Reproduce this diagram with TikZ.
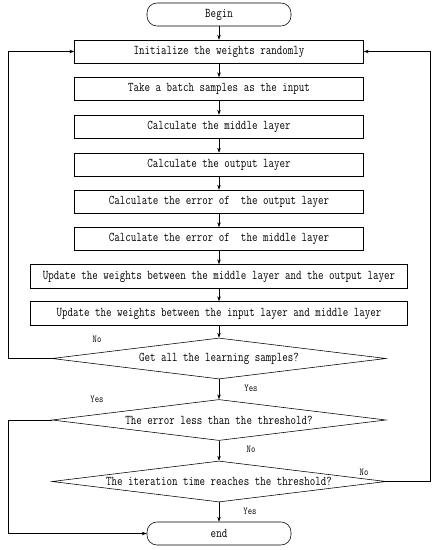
\documentclass[tikz,border=0pt]{standalone}
\usepackage{fontspec}
\newfontfamily\flowfont[FakeStretch=0.8]{Latin Modern Mono}
\usetikzlibrary{arrows.meta, shapes.geometric}

\begin{document}
\begin{tikzpicture}[
    x=0.05cm, y=-0.05cm,
    terminal/.style={rectangle, rounded corners=0.5cm, draw, line width=0.8pt, minimum width=7.2cm, minimum height=1.15cm, inner sep=0pt, font=\flowfont\fontsize{19}{22}\selectfont},
    process/.style={rectangle, draw, line width=0.8pt, minimum width=14.45cm, minimum height=1.15cm, inner sep=0pt, font=\flowfont\fontsize{19}{22}\selectfont},
    wideprocess/.style={process, minimum width=18.85cm, minimum height=1.2cm},
    decision/.style={diamond, draw, line width=0.8pt, aspect=8, inner sep=0pt, minimum width=16.7cm, minimum height=2.05cm, font=\flowfont\fontsize{19}{22}\selectfont},
    arrow/.style={-{Stealth[length=7pt, width=5pt]}, line width=0.8pt},
    label/.style={font=\flowfont\fontsize{15}{17}\selectfont}
]
\useasboundingbox (0,0) rectangle (435,550);

% Main column
\node[terminal] (begin) at (219, 14.5) {Begin};
\node[process] (init) at (219, 51.5) {Initialize the weights randomly};
\node[process] (batch) at (219, 89) {Take a batch samples as the input};
\node[process] (midl) at (219, 126.5) {Calculate the middle layer};
\node[process] (outl) at (219, 164.5) {Calculate the output layer};
\node[process] (errout) at (219, 201.5) {Calculate the error of\ \ the output layer};
\node[process] (errmid) at (219, 239) {Calculate the error of\ \ the middle layer};
\node[wideprocess] (updout) at (219, 276.5) {Update the weights between the middle layer and the output layer};
\node[wideprocess] (updin) at (219, 313.5) {Update the weights between the input layer and middle layer};

% Decisions
\node[decision] (allsamples) at (219, 358.5) {Get all the learning samples?};
\node[decision] (errless) at (219, 420) {The error less than the threshold?};
\node[decision] (itermax) at (219, 481.5) {The iteration time reaches the threshold?};

\node[terminal] (end) at (219, 533.5) {end};

\foreach \a/\b in {begin/init, init/batch, batch/midl, midl/outl, outl/errout, errout/errmid, errmid/updout, updout/updin, updin/allsamples, allsamples/errless, errless/itermax, itermax/end}
    \draw[arrow] (\a) -- (\b);

% Side rails
\coordinate (leftrail) at (8, 0);
\coordinate (rightrail) at (430, 0);
\draw[arrow] (allsamples.west) -- (allsamples.west -| leftrail) |- (init.west);
\draw[arrow] (errless.west) -- (errless.west -| leftrail) |- (end.west);
\draw[arrow] (itermax.east) -- (itermax.east -| rightrail) |- (init.east);

% Branch labels
\node[label] (no1) at (97, 339) {No};
\node[label] (yes1) at (251, 388) {Yes};
\node[label] (yes2) at (97, 399.5) {Yes};
\node[label] (no2) at (251, 449) {No};
\node[label] (no3) at (364, 472) {No};
\node[label] (yes3) at (250, 511) {Yes};

\end{tikzpicture}
\end{document}
